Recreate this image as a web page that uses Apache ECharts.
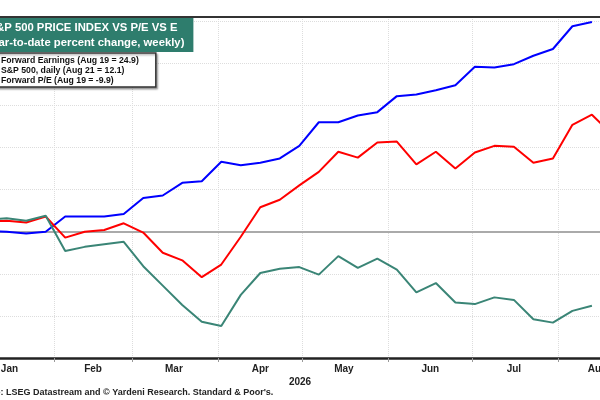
<!DOCTYPE html>
<html>
<head>
<meta charset="utf-8">
<title>S&amp;P 500 price index vs P/E vs E</title>
<script src="https://cdn.jsdelivr.net/npm/echarts@6/dist/echarts.min.js"></script>
<style>
  html, body { margin: 0; padding: 0; background: #fff; }
  #chart { width: 600px; height: 400px; }
</style>
</head>
<body>
<div id="chart"></div>
<script>
//-----------------------------------------------------------------------------------------
// 数据 (年初至今百分比变化, 每周)
//-----------------------------------------------------------------------------------------
var weekDates = ['2026-01-01', '2026-01-08', '2026-01-15', '2026-01-22', '2026-01-29',
    '2026-02-05', '2026-02-12', '2026-02-19', '2026-02-26', '2026-03-05', '2026-03-12',
    '2026-03-19', '2026-03-26', '2026-04-02', '2026-04-09', '2026-04-16', '2026-04-23',
    '2026-04-30', '2026-05-07', '2026-05-14', '2026-05-21', '2026-05-28', '2026-06-04',
    '2026-06-11', '2026-06-18', '2026-06-25', '2026-07-02', '2026-07-09', '2026-07-16',
    '2026-07-23', '2026-07-30', '2026-08-06', '2026-08-13'];
var spxDates = weekDates.concat(['2026-08-20']);

var fwdEarnings = [0, 0.1, 0.0, -0.2, 0.0, 1.8, 1.8, 1.8, 2.1, 4.0, 4.3, 5.8, 6.0, 8.3, 7.9,
    8.2, 8.7, 10.2, 13.0, 13.0, 13.8, 14.2, 16.1, 16.3, 16.8, 17.4, 19.6, 19.5, 19.9, 20.9,
    21.7, 24.4, 24.9];
var spx = [0, 1.2, 1.3, 1.1, 1.8, -0.7, 0.0, 0.2, 1.0, -0.1, -2.5, -3.4, -5.4, -3.9, -0.6,
    2.9, 3.8, 5.5, 7.1, 9.5, 8.8, 10.6, 10.7, 8.0, 9.5, 7.5, 9.4, 10.2, 10.1, 8.2, 8.7,
    12.7, 13.9, 11.6];
var fwdPE = [0, 1.4, 1.6, 1.3, 1.9, -2.3, -1.8, -1.5, -1.2, -4.1, -6.4, -8.7, -10.7, -11.2,
    -7.5, -4.9, -4.4, -4.2, -5.1, -2.9, -4.3, -3.2, -4.5, -7.2, -6.1, -8.4, -8.6, -7.8,
    -8.1, -10.4, -10.8, -9.4, -8.8];

var seriesNames = ['Forward Earnings (Aug 19 = 24.9)', 'S&P 500, daily (Aug 21 = 12.1)',
    'Forward P/E (Aug 19 = -9.9)'];
var monthNames = ['Jan', 'Feb', 'Mar', 'Apr', 'May', 'Jun', 'Jul', 'Aug'];
var monthStarts = ['2026-02-01', '2026-03-01', '2026-04-01', '2026-05-01', '2026-06-01',
    '2026-07-01', '2026-08-01'];
var monthMids = ['2026-01-16', '2026-02-15', '2026-03-16', '2026-04-16', '2026-05-16',
    '2026-06-16', '2026-07-16', '2026-08-15'];
var yTicks = [-15, -10, -5, 0, 5, 10, 15, 20, 25];

//-----------------------------------------------------------------------------------------
// 日期 -> 年内天数
//-----------------------------------------------------------------------------------------
function dayOfYear(s) {
    var p = s.split('-');
    return (Date.UTC(+p[0], +p[1] - 1, +p[2]) - Date.UTC(2026, 0, 1)) / 864e5;
}
function pairs(dates, vals) {
    var out = [];
    for (var i = 0; i < vals.length; i++) {
        out.push([dayOfYear(dates[i]), vals[i]]);
    }
    return out;
}

var chart = echarts.init(document.getElementById('chart'));
var font = 'Liberation Sans, Arial, sans-serif';
var xMin = 11.6, xMax = 226.9;

var option = {
    animation: false,
    title: [{
        text: 'S&P 500 PRICE INDEX VS P/E VS E\n(Year-to-date percent change, weekly)',
        left: 74,
        top: 18,
        textAlign: 'center',
        padding: [2, 9],
        backgroundColor: '#2e7d6d',
        textStyle: { color: '#fff', fontSize: 11.3, fontWeight: 'bold', lineHeight: 15, fontFamily: font }
    }, {
        text: '2026',
        left: 'center',
        top: 377,
        padding: 0,
        textStyle: { color: '#222', fontSize: 10, fontWeight: 'bold', fontFamily: font }
    }, {
        text: "Source: LSEG Datastream and \u00a9 Yardeni Research. Standard & Poor's.",
        left: -30,
        top: 388,
        padding: 0,
        textStyle: { color: '#222', fontSize: 9, fontWeight: 'bold', fontFamily: font }
    }],
    legend: {
        orient: 'vertical',
        left: -30,
        top: 53,
        padding: [3, 17, 1, 5],
        itemGap: 0,
        itemWidth: 20,
        itemHeight: 8,
        backgroundColor: '#fff',
        borderColor: '#333',
        borderWidth: 1.5,
        shadowColor: 'rgba(0,0,0,0.35)',
        shadowBlur: 2,
        shadowOffsetX: 1.5,
        shadowOffsetY: 1.5,
        data: seriesNames,
        textStyle: { color: '#111', fontSize: 8.7, lineHeight: 10, fontWeight: 'bold', fontFamily: font }
    },
    grid: { left: 0, right: 0, top: 17, bottom: 42, outerBoundsMode: 'none', containLabel: false },
    xAxis: [{
        type: 'value',
        min: xMin,
        max: xMax,
        axisLine: { show: true, onZero: false, lineStyle: { color: '#222', width: 2.5 } },
        axisTick: {
            show: true,
            length: 4,
            customValues: monthStarts.map(dayOfYear),
            lineStyle: { color: '#999' }
        },
        axisLabel: {
            customValues: monthMids.map(dayOfYear),
            margin: 6,
            color: '#222',
            fontSize: 10,
            fontWeight: 'bold',
            fontFamily: font,
            formatter: function (v) {
                var m = new Date(Date.UTC(2026, 0, 1) + v * 864e5).getUTCMonth();
                return monthNames[m];
            }
        },
        splitLine: { show: true, lineStyle: { color: '#ddd', type: 'dotted' } }
    }, {
        type: 'value',
        position: 'top',
        min: xMin,
        max: xMax,
        axisLine: { show: true, onZero: false, lineStyle: { color: '#333', width: 2 } },
        axisTick: { show: false },
        axisLabel: { show: false },
        splitLine: { show: false }
    }],
    yAxis: {
        type: 'value',
        min: yTicks[0],
        max: 25.5,
        interval: 5,
        axisLine: { show: false },
        axisTick: { show: false },
        axisLabel: { show: false },
        splitLine: { show: true, lineStyle: { color: '#ddd', type: 'dotted' } }
    },
    series: [{
        name: seriesNames[0],
        type: 'line',
        data: pairs(weekDates, fwdEarnings),
        showSymbol: false,
        color: '#0000ff',
        lineStyle: { width: 2 },
        z: 3,
        markLine: {
            silent: true,
            z: 1,
            symbol: 'none',
            label: { show: false },
            lineStyle: { color: '#aaa', width: 2, type: 'solid' },
            data: [{ yAxis: 0 }]
        }
    }, {
        name: seriesNames[1],
        type: 'line',
        data: pairs(spxDates, spx),
        showSymbol: false,
        color: '#ff0000',
        lineStyle: { width: 2 },
        z: 3
    }, {
        name: seriesNames[2],
        type: 'line',
        data: pairs(weekDates, fwdPE),
        showSymbol: false,
        color: '#3a8576',
        lineStyle: { width: 2 },
        z: 3
    }]
};
chart.setOption(option);
</script>
</body>
</html>
